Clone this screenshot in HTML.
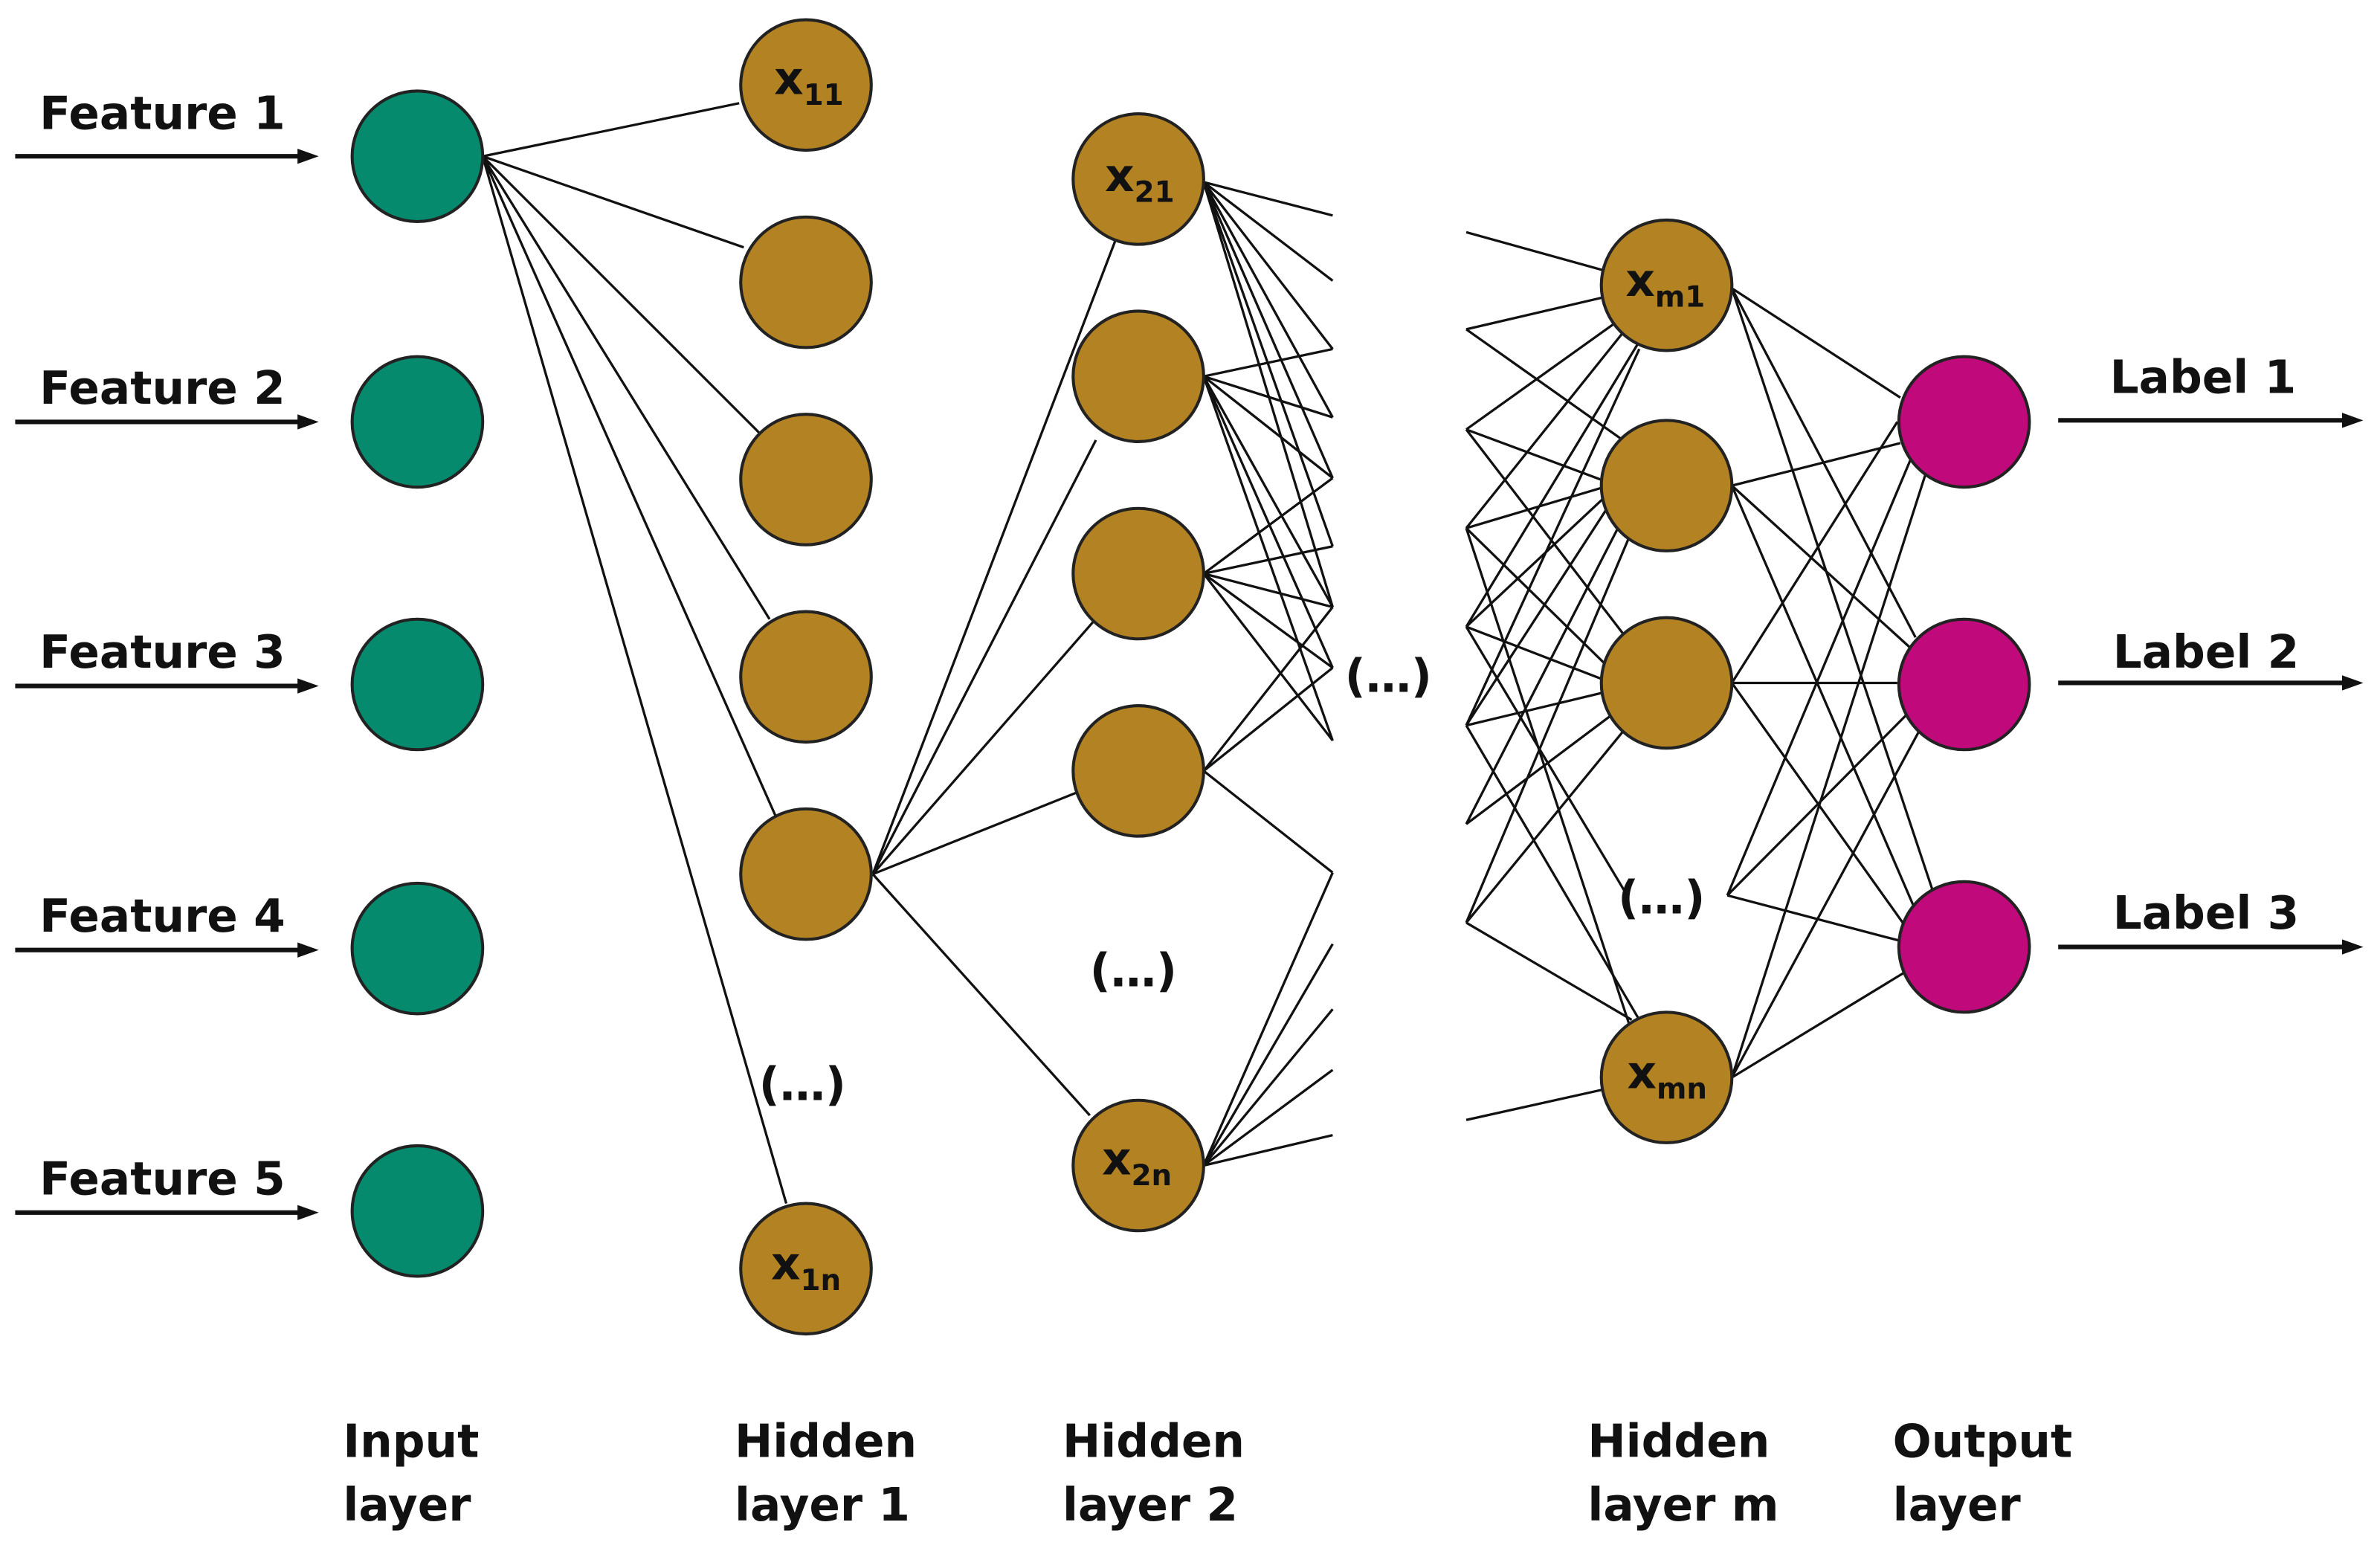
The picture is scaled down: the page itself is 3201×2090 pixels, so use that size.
<!DOCTYPE html>
<html><head><meta charset="utf-8"><style>
html,body{margin:0;padding:0;background:#fff}
svg{display:block}
text{font-family:"DejaVu Sans","Liberation Sans",sans-serif;font-weight:bold;fill:#111}
</style></head><body>
<svg width="3201" height="2090" viewBox="0 0 1568 1024" preserveAspectRatio="none" xmlns="http://www.w3.org/2000/svg">
<defs><marker id="a" markerWidth="14" markerHeight="12" refX="2" refY="6" orient="auto" markerUnits="userSpaceOnUse"><path d="M0,1 L14,6 L0,11 z" fill="#111"/></marker></defs>
<g stroke="#111" stroke-width="1.6" fill="none">
<path d="M318,103L487,68M318,103L490,163M318,103L500,285M318,103L507,408M318,103L512,540M318,103L518,793"/>
<path d="M575,576L735,158M575,576L722,290M575,576L720,410M575,576L710,522M575,576L718,735"/>
<path d="M793,120L878,142M793,120L878,185M793,120L878,275M793,120L878,315M793,120L878,230M793,120L878,400M793,120L878,360"/>
<path d="M793,248L878,230M793,248L878,275M793,248L878,315M793,248L878,400M793,248L878,440M793,248L878,488"/>
<path d="M793,378L878,315M793,378L878,360M793,378L878,400M793,378L878,488M793,378L878,440"/>
<path d="M793,508L878,440M793,508L878,400M793,508L878,575"/>
<path d="M793,768L878,575M793,768L878,622M793,768L878,665M793,768L878,705M793,768L878,748"/>
<path d="M966,153L1056,178M966,217L1056,196M966,217L1072,292M966,283L1068,210M966,283L1060,318M966,283L1075,425M966,348L1075,212M966,348L1060,320M966,348L1060,440M966,348L1075,680"/>
<path d="M966,413L1080,225M966,413L1060,325M966,413L1062,450M966,413L1072,590M966,478L1080,230M966,478L1062,330M966,478L1062,455M966,478L1080,672M966,543L1070,340M966,543L1070,465M966,608L1075,350M966,608L1075,475M966,608L1075,672M966,738L1056,718"/>
<path d="M1141,190L1252,262M1141,190L1262,420M1141,190L1275,592M1141,320L1252,292M1141,320L1262,430M1141,320L1262,600M1141,450L1250,278M1141,450L1250,450M1141,450L1255,610M1138,590L1262,295M1138,590L1262,465M1138,590L1252,620M1141,710L1270,308M1141,710L1268,475M1141,710L1256,640"/>
</g>
<g stroke="#111" stroke-width="3" marker-end="url(#a)">
<line x1="10" y1="103" x2="198" y2="103"/><line x1="10" y1="278" x2="198" y2="278"/><line x1="10" y1="452" x2="198" y2="452"/><line x1="10" y1="626" x2="198" y2="626"/><line x1="10" y1="799" x2="198" y2="799"/>
<line x1="1356" y1="277" x2="1545" y2="277"/><line x1="1356" y1="450" x2="1545" y2="450"/><line x1="1356" y1="624" x2="1545" y2="624"/>
</g>
<g stroke="#222" stroke-width="2">
<g fill="#058a6e"><circle cx="275" cy="103" r="43"/><circle cx="275" cy="278" r="43"/><circle cx="275" cy="451" r="43"/><circle cx="275" cy="625" r="43"/><circle cx="275" cy="798" r="43"/></g>
<g fill="#b38222"><circle cx="531" cy="56" r="43"/><circle cx="531" cy="186" r="43"/><circle cx="531" cy="316" r="43"/><circle cx="531" cy="446" r="43"/><circle cx="531" cy="576" r="43"/><circle cx="531" cy="836" r="43"/>
<circle cx="750" cy="118" r="43"/><circle cx="750" cy="248" r="43"/><circle cx="750" cy="378" r="43"/><circle cx="750" cy="508" r="43"/><circle cx="750" cy="768" r="43"/>
<circle cx="1098" cy="188" r="43"/><circle cx="1098" cy="320" r="43"/><circle cx="1098" cy="450" r="43"/><circle cx="1098" cy="710" r="43"/></g>
<g fill="#c0097a"><circle cx="1294" cy="278" r="43"/><circle cx="1294" cy="451" r="43"/><circle cx="1294" cy="624" r="43"/></g>
</g>
<g font-size="30">
<text x="26" y="85">Feature 1</text><text x="26" y="266">Feature 2</text><text x="26" y="440">Feature 3</text><text x="26" y="614">Feature 4</text><text x="26" y="787">Feature 5</text>
<text x="1390" y="259">Label 1</text><text x="1392" y="440">Label 2</text><text x="1392" y="612">Label 3</text>
<text x="500" y="725">(…)</text><text x="718" y="650">(…)</text><text x="886" y="456">(…)</text><text x="1066" y="602">(…)</text>
<text x="226" y="960">Input</text><text x="226" y="1002">layer</text>
<text x="484" y="960">Hidden</text><text x="484" y="1002">layer 1</text>
<text x="700" y="960">Hidden</text><text x="700" y="1002">layer 2</text>
<text x="1046" y="960">Hidden</text><text x="1046" y="1002">layer m</text>
<text x="1247" y="960">Output</text><text x="1247" y="1002">layer</text>
</g>
<g font-size="30">
<text x="510" y="62">x<tspan font-size="19" dy="7">11</tspan></text>
<text x="508" y="843">x<tspan font-size="19" dy="7">1n</tspan></text>
<text x="728" y="126">x<tspan font-size="19" dy="7">21</tspan></text>
<text x="726" y="774">x<tspan font-size="19" dy="7">2n</tspan></text>
<text x="1071" y="195">x<tspan font-size="19" dy="7">m1</tspan></text>
<text x="1072" y="717">x<tspan font-size="19" dy="7">mn</tspan></text>
</g>
</svg>
</body></html>
